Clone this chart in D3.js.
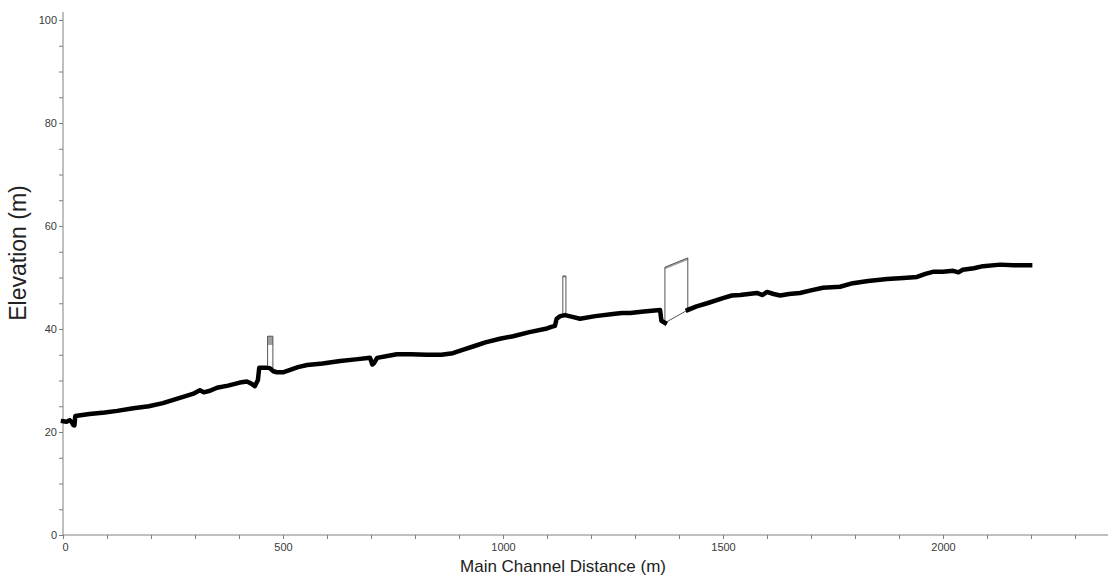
<!DOCTYPE html>
<html>
<head>
<meta charset="utf-8">
<script src="https://cdn.jsdelivr.net/npm/d3@7"></script>
<style>
  html, body { margin: 0; padding: 0; background: #fff; }
  svg { display: block; font-family: "Liberation Sans", Arial, sans-serif; }
  .axis path, .axis line { stroke: #808080; }
  .axis text { fill: #3a3a3a; font-size: 11px; }
</style>
</head>
<body>
<div id="chart"></div>
<script>
// channel long profile, [distance m, elevation m]
const profileUpstream = [
  [0, 22.1], [8, 22.0], [15, 22.3], [20, 21.9], [23, 21.4], [26, 21.3], [28, 23.1],
  [60, 23.5], [95, 23.8], [123, 24.1], [160, 24.6], [195, 25.0], [227, 25.6],
  [260, 26.5], [295, 27.4], [311, 28.1], [320, 27.7], [334, 28.0], [350, 28.6],
  [375, 29.0], [402, 29.6], [418, 29.8], [428, 29.4], [436, 28.9], [443, 30.1],
  [446, 32.5], [460, 32.5], [470, 32.4], [478, 31.8], [486, 31.6], [500, 31.6],
  [534, 32.6], [555, 33.0], [590, 33.3], [630, 33.8], [665, 34.1], [698, 34.4],
  [703, 33.1], [707, 33.4], [714, 34.4], [740, 34.8], [759, 35.1], [790, 35.1],
  [827, 35.0], [860, 35.0], [886, 35.3], [910, 36.0], [932, 36.6], [960, 37.4],
  [993, 38.1], [1023, 38.6], [1060, 39.4], [1100, 40.1], [1110, 40.4], [1118, 40.6],
  [1122, 42.0], [1130, 42.5], [1141, 42.7], [1160, 42.3], [1175, 42.0], [1210, 42.5],
  [1250, 42.9], [1270, 43.1], [1289, 43.1], [1320, 43.4], [1357, 43.7], [1360, 41.6],
  [1368, 41.2]
];
const profileDownstream = [
  [1420, 43.7], [1440, 44.4], [1464, 45.0], [1500, 46.0], [1520, 46.5], [1539, 46.6],
  [1577, 47.0], [1590, 46.6], [1600, 47.2], [1615, 46.8], [1630, 46.5], [1650, 46.8],
  [1675, 47.0], [1700, 47.5], [1727, 48.0], [1766, 48.2], [1795, 48.9], [1830, 49.3],
  [1873, 49.7], [1910, 49.9], [1941, 50.1], [1960, 50.7], [1977, 51.1], [2000, 51.1],
  [2023, 51.3], [2035, 51.0], [2045, 51.5], [2070, 51.8], [2091, 52.2], [2130, 52.5],
  [2160, 52.4], [2198, 52.4]
];
// structures: x0, x1, top elev at x0 / x1, bottom elev at x0 / x1, grey cap depth
const bridges = [
  { x0: 465, x1: 477, top0: 38.6, top1: 38.6, bot0: 32.5, bot1: 32.4, cap: 1.7 },
  { x0: 1136, x1: 1143, top0: 50.3, top1: 50.3, bot0: 42.6, bot1: 42.7, cap: 0.3 },
  { x0: 1368, x1: 1420, top0: 52.0, top1: 53.8, bot0: 41.2, bot1: 43.7, cap: 0.4 }
];
const xTicks = [0, 500, 1000, 1500, 2000];
const yTicks = [0, 20, 40, 60, 80, 100];

const W = 1112, H = 577;
const margin = { top: 12, right: 4, bottom: 42, left: 63 };

const svg = d3.select('#chart').append('svg').attr('width', W).attr('height', H);

const x = d3.scaleLinear().domain([0, 2375]).range([margin.left, W - margin.right]);
const y = d3.scaleLinear().domain([0, 100]).range([535, 20]);

// axes
const gx = svg.append('g').attr('class', 'axis').attr('transform', 'translate(0,535)');
gx.call(d3.axisBottom(x).tickValues(d3.range(0, 2400, 100)).tickSize(4).tickFormat(''));
gx.select('.domain').attr('d', `M${x(0)},0H${W - margin.right}`);
gx.selectAll('.tick')
  .filter(d => xTicks.includes(d))
  .append('text')
  .attr('y', 16).attr('text-anchor', d => d === 0 ? 'start' : 'middle')
  .attr('x', d => d === 0 ? -1 : 0)
  .text(d => d);

const gy = svg.append('g').attr('class', 'axis').attr('transform', `translate(${margin.left},0)`);
gy.call(d3.axisLeft(y).tickValues(d3.range(0, 105, 5)).tickSize(4).tickFormat(''));
gy.select('.domain').attr('d', `M0,${margin.top}V535`);
gy.selectAll('.tick')
  .filter(d => yTicks.includes(d))
  .append('text')
  .attr('x', -6).attr('dy', '0.35em').attr('text-anchor', 'end')
  .text(d => d);

// axis titles
svg.append('text')
  .attr('x', 563).attr('y', 572)
  .attr('text-anchor', 'middle')
  .attr('font-size', 17).attr('fill', '#222')
  .text('Main Channel Distance (m)');
svg.append('text')
  .attr('transform', `translate(26,253) rotate(-90)`)
  .attr('text-anchor', 'middle')
  .attr('font-size', 23).attr('fill', '#222')
  .text('Elevation (m)');

// structures
const bg = svg.append('g');
bridges.forEach(b => {
  bg.append('path')
    .attr('d', `M${x(b.x0)},${y(b.top0)}L${x(b.x1)},${y(b.top1)}L${x(b.x1)},${y(b.top1 - b.cap)}L${x(b.x0)},${y(b.top0 - b.cap)}Z`)
    .attr('fill', '#a0a0a0').attr('stroke', 'none');
  bg.append('path')
    .attr('d', `M${x(b.x0)},${y(b.bot0)}L${x(b.x0)},${y(b.top0)}L${x(b.x1)},${y(b.top1)}L${x(b.x1)},${y(b.bot1)}L${x(b.x0)},${y(b.bot0)}`)
    .attr('fill', 'none').attr('stroke', '#555').attr('stroke-width', 1);
});

// profile
const line = d3.line().x(d => x(d[0])).y(d => y(d[1]));
[profileUpstream, profileDownstream].forEach(seg => {
  svg.append('path')
    .datum(seg)
    .attr('d', line)
    .attr('fill', 'none')
    .attr('stroke', '#000')
    .attr('stroke-width', 4.5)
    .attr('stroke-linejoin', 'round')
    .attr('stroke-linecap', 'square');
});
</script>
</body>
</html>
